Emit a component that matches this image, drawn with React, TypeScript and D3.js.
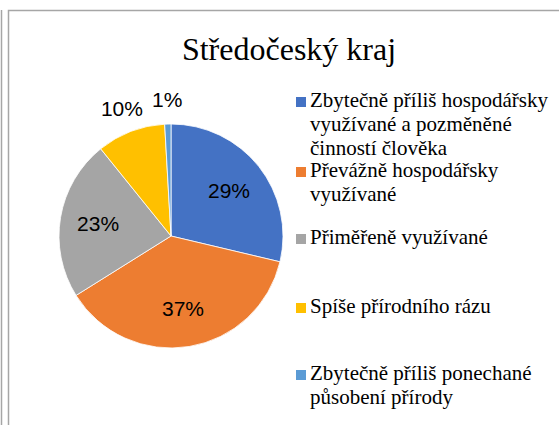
import React, {useEffect, useRef} from 'react';
import * as d3 from "d3"

const title = "Středočeský kraj"
const categories = [
    "Zbytečně příliš hospodářsky využívané a pozměněné činností člověka",
    "Převážně hospodářsky využívané",
    "Přiměřeně využívané",
    "Spíše přírodního rázu",
    "Zbytečně příliš ponechané působení přírody",
]
const values = [28.7, 37.4, 23.1, 9.9, 0.9]
const labels = ["29%", "37%", "23%", "10%", "1%"]
const colors = ["#4472c4", "#ed7d31", "#a5a5a5", "#ffc000", "#5b9bd5"]
// legend lines as wrapped by the original
const legendLines = [
    ["Zbytečně příliš hospodářsky", "využívané a pozměněné", "činností člověka"],
    ["Převážně hospodářsky", "využívané"],
    ["Přiměřeně využívané"],
    ["Spíše přírodního rázu"],
    ["Zbytečně příliš ponechané", "působení přírody"],
]
const legendTop = [107, 177, 244, 313, 380]

const W = 559, H = 425
const SERIF = "'Times New Roman', 'Liberation Serif', 'Noto Serif', 'DejaVu Serif', serif"
const SANS = "'Liberation Sans', Arial, sans-serif"

const App = () => {
    const svgRef = useRef<SVGSVGElement>(null)

    useEffect(() => {
        const svg = d3.select(svgRef.current)
        svg.selectAll("*").remove()

        // frame lines
        svg.append("line").attr("x1", 1.5).attr("x2", 1.5).attr("y1", 10).attr("y2", H)
            .attr("stroke", "#a6a6a6").attr("stroke-width", 1.5)
        svg.append("path").attr("d", `M8.5,${H} V10.5 H${W}`)
            .attr("fill", "none").attr("stroke", "#a6a6a6").attr("stroke-width", 1.5)

        svg.append("text")
            .attr("x", 289).attr("y", 60)
            .attr("text-anchor", "middle")
            .style("font-family", SERIF)
            .style("font-size", "32px")
            .attr("fill", "#000")
            .text(title)

        const cx = 171, cy = 236, r = 112
        const pie = d3.pie<number>().sort(null).value(d => d)
        const arcs = pie(values)
        const arc = d3.arc<d3.PieArcDatum<number>>().innerRadius(0).outerRadius(r)
        const inner = d3.arc<d3.PieArcDatum<number>>().innerRadius(r * 0.66).outerRadius(r * 0.66)
        const outer = d3.arc<d3.PieArcDatum<number>>().innerRadius(r * 1.22).outerRadius(r * 1.22)

        const g = svg.append("g").attr("transform", `translate(${cx},${cy})`)
        g.selectAll("path.slice")
            .data(arcs)
            .enter()
            .append("path")
            .attr("class", "slice")
            .attr("d", arc)
            .attr("fill", (d, i) => colors[i])
            .attr("stroke", "#fff")
            .attr("stroke-width", 0.8)

        g.selectAll("text.lbl")
            .data(arcs)
            .enter()
            .append("text")
            .attr("class", "lbl")
            .attr("transform", (d) => {
                const c = d.data < 12 ? outer.centroid(d) : inner.centroid(d)
                return `translate(${c[0]},${c[1]})`
            })
            .attr("text-anchor", "middle")
            .attr("dy", "0.36em")
            .style("font-family", SANS)
            .style("font-size", "21px")
            .attr("fill", "#000")
            .text((d, i) => labels[i])

        const leg = svg.append("g")
        categories.forEach((c, i) => {
            const y0 = legendTop[i]
            leg.append("rect")
                .attr("x", 296).attr("y", y0 - 10)
                .attr("width", 10).attr("height", 10)
                .attr("fill", colors[i])
            const t = leg.append("text")
                .style("font-family", SERIF)
                .style("font-size", "21px")
                .attr("fill", "#000")
            legendLines[i].forEach((ln, j) => {
                t.append("tspan").attr("x", 310).attr("y", y0 + j * 24).text(ln)
            })
        })
    }, [])

    return <svg ref={svgRef} width={W} height={H}
                style={{position: "absolute", left: 0, top: 0, background: "#fff"}}/>
};

export default App;
